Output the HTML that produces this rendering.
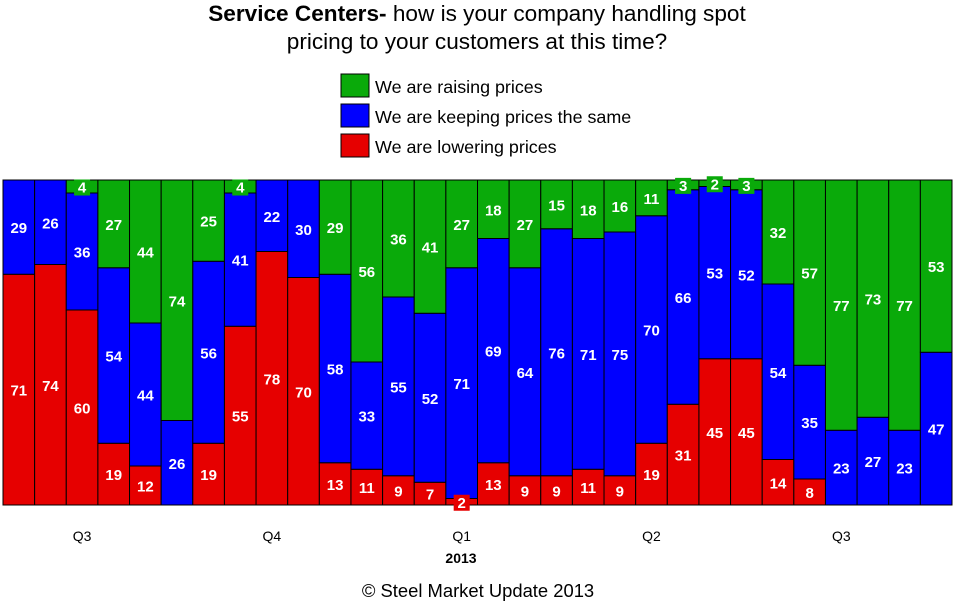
<!DOCTYPE html>
<html><head><meta charset="utf-8"><style>
body{margin:0;background:#fff;width:958px;height:604px;overflow:hidden}
svg{font-family:"Liberation Sans",sans-serif}
</style></head><body>
<svg width="958" height="604">
<text x="477" y="21" text-anchor="middle" font-size="22.6"><tspan font-weight="bold">Service Centers-</tspan> how is your company handling spot</text>
<text x="477" y="49" text-anchor="middle" font-size="22.6">pricing to your customers at this time?</text>
<g>
<rect x="341" y="74" width="28" height="23" fill="#0aaa0a" stroke="#000"/><text x="375" y="93" font-size="17.9">We are raising prices</text>
<rect x="341" y="104" width="28" height="23" fill="#0000ff" stroke="#000"/><text x="375" y="123" font-size="17.9">We are keeping prices the same</text>
<rect x="341" y="134" width="28" height="23" fill="#e60000" stroke="#000"/><text x="375" y="153" font-size="17.9">We are lowering prices</text>
</g>
<g id="bars"></g>
<g font-size="14" fill="#000" text-anchor="middle" id="xaxis"></g>
<text x="461" y="563" text-anchor="middle" font-size="14" font-weight="bold">2013</text>
<text x="478" y="597" text-anchor="middle" font-size="18.4">© Steel Market Update 2013</text>
</svg>
<script>
const lowering=[71,74,60,19,12,0,19,55,78,70,13,11,9,7,2,13,9,9,11,9,19,31,45,45,14,8,0,0,0,0];
const same=[29,26,36,54,44,26,56,41,22,30,58,33,55,52,71,69,64,76,71,75,70,66,53,52,54,35,23,27,23,47];
const raising=[0,0,4,27,44,74,25,4,0,0,29,56,36,41,27,18,27,15,18,16,11,3,2,3,32,57,77,73,77,53];
const quarterLabels=["Q3","Q4","Q1","Q2","Q3"];
const quarterCenters=[2,8,14,20,26];
const ns="http://www.w3.org/2000/svg";
const X0=3,X1=952,Y0=180,Y1=505,n=lowering.length,bw=(X1-X0)/n;
const yS=v=>(Y1-Y0)*v/100;
const g=document.getElementById('bars');
function seg(i,start,val,color,name){
  const x=X0+i*bw,y=Y1-yS(start+val),h=yS(val);
  if(val<=0)return;
  const r=document.createElementNS(ns,'rect');
  r.setAttribute('x',x);r.setAttribute('y',y);r.setAttribute('width',bw);r.setAttribute('height',h);
  r.setAttribute('fill',color);r.setAttribute('stroke','#000');r.setAttribute('stroke-width','1');
  
  
  g.appendChild(r);
}
function lab(i,start,val,color){
  if(val<=0)return;
  const cx=X0+(i+0.5)*bw,cy=Y1-yS(start+val/2);
  if(val<5){
    const b=document.createElementNS(ns,'rect');
    b.setAttribute('x',cx-8);b.setAttribute('y',cy-7);b.setAttribute('width',16);b.setAttribute('height',16);b.setAttribute('fill',color);
    
    
    g.appendChild(b);
  }
  const t=document.createElementNS(ns,'text');
  t.setAttribute('x',cx);t.setAttribute('y',cy+6);t.setAttribute('text-anchor','middle');
  t.setAttribute('font-size','15');t.setAttribute('font-weight','bold');t.setAttribute('fill','#fff');
  t.textContent=val;
  
  
  g.appendChild(t);
}
for(let i=0;i<n;i++){
  seg(i,0,lowering[i],'#e60000','bar-lowering');
  seg(i,lowering[i],same[i],'#0000ff','bar-same');
  seg(i,lowering[i]+same[i],raising[i],'#0aaa0a','bar-raising');
}
for(let i=0;i<n;i++){
  lab(i,0,lowering[i],'#e60000');
  lab(i,lowering[i],same[i],'#0000ff');
  lab(i,lowering[i]+same[i],raising[i],'#0aaa0a');
}
const xa=document.getElementById('xaxis');
quarterLabels.forEach((q,k)=>{
  const t=document.createElementNS(ns,'text');
  t.setAttribute('x',X0+(quarterCenters[k]+0.5)*bw);t.setAttribute('y',541);
  t.textContent=q;
  
  
  xa.appendChild(t);
});
</script>
</body></html>
